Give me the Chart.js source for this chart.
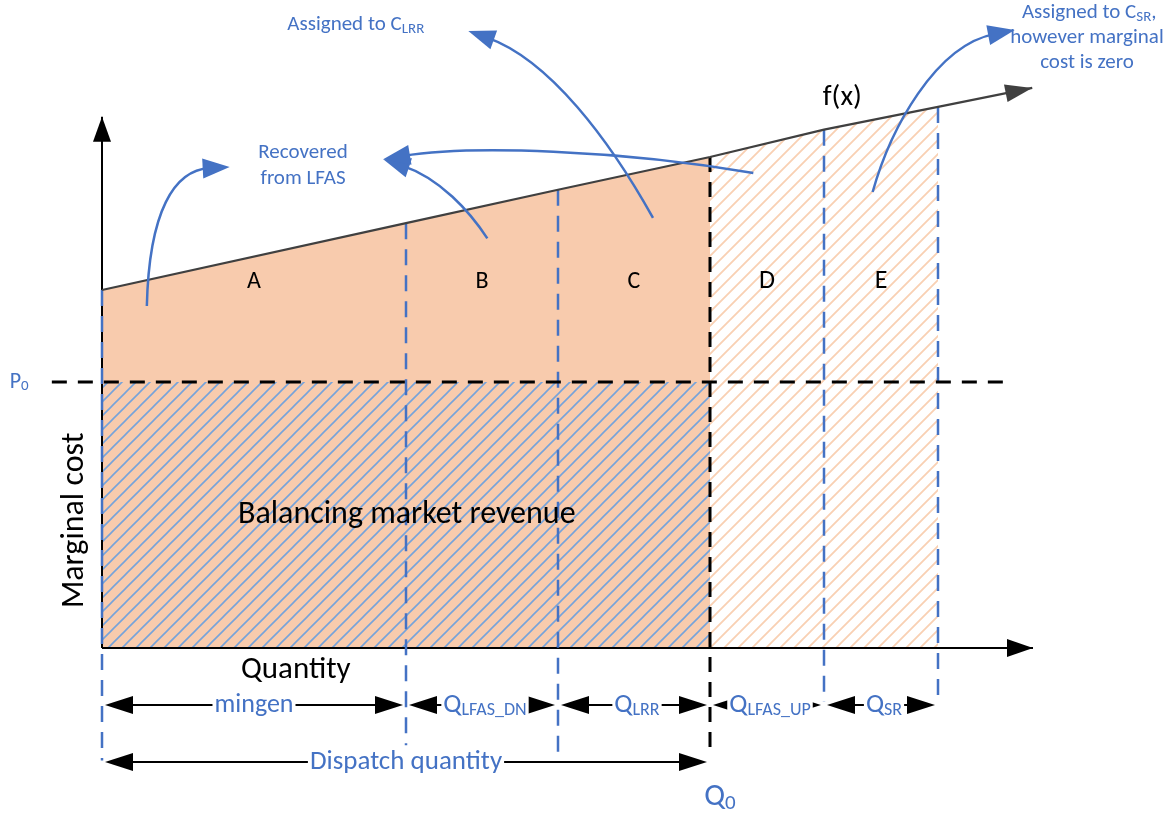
<!DOCTYPE html>
<html lang="en">
<head>
<meta charset="UTF-8" />
<title>Marginal cost, quantity segments and balancing market revenue</title>
<style>
  html, body { margin: 0; padding: 0; background: #fff; }
  #chart { display: block; }
</style>
</head>
<body>
<canvas id="chart" width="1175" height="815"></canvas>
<script src="https://cdn.jsdelivr.net/npm/chart.js@4.4.1/dist/chart.umd.min.js"></script>
<script>
// quantity boundaries of the segments (quantity units)
const segmentEdges = [0, 4, 6, 8, 9.5, 11];
const segmentNames = ["A", "B", "C", "D", "E"];
const segmentDims = [["mingen", ""], ["Q", "LFAS_DN"], ["Q", "LRR"], ["Q", "LFAS_UP"], ["Q", "SR"]];
// marginal cost curve f(x)
const curveX = [0, 4, 6, 8, 9.5, 11, 12.24];
const curveY = [4.71, 5.59, 6.03, 6.46, 6.82, 7.12, 7.37];
const p0 = 3.5;
const q0 = 8;
// where each dashed guide stops below the quantity axis
const guideBottom = [-1.48, -1.28, -1.43, -1.43, -0.71, -0.75];

const xAxisEnd = 12.25;
const yAxisEnd = 6.99;
const p0From = -0.66, p0To = 11.9;
const dimRow1 = -0.75, dimRow2 = -1.5;

const BLUE = "#4472C4";
const PEACH = "#F8CBAD";
const FONT = "Carlito, Calibri, Lato, 'Open Sans', sans-serif";

function hatch(bg, stroke, width) {
  const s = 14;
  const c = document.createElement("canvas");
  c.width = s; c.height = s;
  const g = c.getContext("2d");
  if (bg) { g.fillStyle = bg; g.fillRect(0, 0, s, s); }
  g.strokeStyle = stroke;
  g.lineWidth = width;
  g.beginPath();
  g.moveTo(-2, s + 2); g.lineTo(s + 2, -2);
  g.moveTo(-2, 2); g.lineTo(2, -2);
  g.moveTo(s - 2, s + 2); g.lineTo(s + 2, s - 2);
  g.stroke();
  return g.createPattern(c, "repeat");
}

const pts = (xs, ys) => xs.map((x, i) => ({ x: x, y: ys[i] }));
const qi = segmentEdges.indexOf(q0);

const datasets = [];
datasets.push({ data: pts(curveX, curveY), borderColor: "#404040", borderWidth: 2.2 });
datasets.push({ data: [{ x: p0From, y: p0 }, { x: p0To, y: p0 }], borderColor: "#000", borderWidth: 3, borderDash: [15, 11] });
segmentEdges.forEach((x, i) => {
  const isQ0 = x === q0;
  datasets.push({
    data: [{ x: x, y: curveY[i] }, { x: x, y: guideBottom[i] }],
    borderColor: isQ0 ? "#000" : BLUE,
    borderWidth: isQ0 ? 3 : 2.5,
    borderDash: isQ0 ? [15, 10] : [16, 10]
  });
});
datasets.push({ data: [{ x: 0, y: 0 }, { x: xAxisEnd, y: 0 }], borderColor: "#000", borderWidth: 2 });
datasets.push({ data: [{ x: 0, y: 0 }, { x: 0, y: yAxisEnd }], borderColor: "#000", borderWidth: 2 });
// areas
datasets.push({
  data: pts(segmentEdges.slice(0, qi + 1), curveY.slice(0, qi + 1)),
  borderWidth: 0, fill: { value: p0 }, backgroundColor: PEACH
});
datasets.push({
  data: [{ x: segmentEdges[0], y: p0 }, { x: q0, y: p0 }],
  borderWidth: 0, fill: { value: 0 }, backgroundColor: hatch(PEACH, "#76A3DA", 1.6)
});
datasets.push({
  data: pts(segmentEdges.slice(qi), curveY.slice(qi, segmentEdges.length)),
  borderWidth: 0, fill: { value: 0 }, backgroundColor: hatch("#fff", "#F9D0B3", 1.8)
});

// curved call-out arrows (quantity / cost units)
const callouts = [
  { from: [0.59, 4.50], c1: [0.62, 5.75], c2: [0.95, 6.29], to: [1.68, 6.33] },
  { from: [5.07, 5.39], c1: [4.84, 5.74], c2: [4.45, 6.18], to: [3.70, 6.43] },
  { from: [8.57, 6.25], c1: [6.82, 6.55], c2: [4.84, 6.62], to: [3.70, 6.43] },
  { from: [7.25, 5.66], c1: [6.68, 6.68], c2: [5.89, 7.74], to: [4.82, 8.12] },
  { from: [10.14, 6.0], c1: [10.37, 6.82], c2: [10.96, 7.93], to: [12.01, 8.13] }
];

function head(ctx, x, y, ang, len, half, color) {
  ctx.save();
  ctx.translate(x, y);
  ctx.rotate(ang);
  ctx.fillStyle = color;
  ctx.beginPath();
  ctx.moveTo(0, 0);
  ctx.lineTo(-len, -half);
  ctx.lineTo(-len, half);
  ctx.closePath();
  ctx.fill();
  ctx.restore();
}

function subText(ctx, main, sub, cx, cy, size, subSize, color, bg, tail) {
  tail = tail || "";
  ctx.font = size + "px " + FONT;
  const w1 = ctx.measureText(main).width;
  const w3 = tail ? ctx.measureText(tail).width : 0;
  ctx.font = subSize + "px " + FONT;
  const w2 = sub ? ctx.measureText(sub).width : 0;
  const x0 = cx - (w1 + w2 + w3) / 2;
  if (bg) {
    ctx.fillStyle = bg;
    ctx.fillRect(x0 - 2, cy - size * 0.45, w1 + w2 + w3 + 4, size * 0.9);
  }
  ctx.fillStyle = color;
  ctx.textAlign = "left";
  ctx.textBaseline = "middle";
  ctx.font = size + "px " + FONT;
  ctx.fillText(main, x0, cy);
  if (tail) ctx.fillText(tail, x0 + w1 + w2, cy);
  if (sub) {
    ctx.font = subSize + "px " + FONT;
    ctx.fillText(sub, x0 + w1, cy + size * 0.2);
  }
}

const drawing = {
  id: "drawing",
  afterDatasetsDraw(chart) {
    const ctx = chart.ctx;
    const X = v => chart.scales.x.getPixelForValue(v);
    const Y = v => chart.scales.y.getPixelForValue(v);
    ctx.save();

    // axis arrowheads
    head(ctx, X(xAxisEnd), Y(0), 0, 26, 9, "#000");
    head(ctx, X(0), Y(yAxisEnd), -Math.PI / 2, 25, 9, "#000");
    const n = curveX.length;
    const fa = Math.atan2(Y(curveY[n - 1]) - Y(curveY[n - 2]), X(curveX[n - 1]) - X(curveX[n - 2]));
    head(ctx, X(curveX[n - 1]), Y(curveY[n - 1]), fa, 27, 9, "#404040");

    // call-out arrows
    ctx.strokeStyle = BLUE;
    ctx.lineWidth = 2.5;
    callouts.forEach(c => {
      const tx = X(c.to[0]), ty = Y(c.to[1]);
      const a = Math.atan2(ty - Y(c.c2[1]), tx - X(c.c2[0]));
      ctx.beginPath();
      ctx.moveTo(X(c.from[0]), Y(c.from[1]));
      ctx.bezierCurveTo(X(c.c1[0]), Y(c.c1[1]), X(c.c2[0]), Y(c.c2[1]), tx - Math.cos(a) * 20, ty - Math.sin(a) * 20);
      ctx.stroke();
      head(ctx, tx, ty, a, 27, 10, BLUE);
    });

    // segment letters
    ctx.textAlign = "center";
    ctx.textBaseline = "middle";
    ctx.fillStyle = "#000";
    segmentNames.forEach((s, i) => {
      ctx.font = (i < 3 ? 24 : 26) + "px " + FONT;
      ctx.fillText(s, X((segmentEdges[i] + segmentEdges[i + 1]) / 2), Y(4.82));
    });
    ctx.font = "29px " + FONT;
    ctx.fillText("f(x)", X(9.74), Y(7.24));
    ctx.font = "32px " + FONT;
    ctx.fillText("Balancing market revenue", X(4.01), Y(1.75));
    ctx.font = "31px " + FONT;
    ctx.fillText("Quantity", X(2.55), Y(-0.29));
    ctx.save();
    ctx.translate(X(-0.36), Y(1.68));
    ctx.rotate(-Math.PI / 2);
    ctx.font = "32px " + FONT;
    ctx.fillText("Marginal cost", 0, 0);
    ctx.restore();

    // dimension arrows
    ctx.strokeStyle = "#000";
    ctx.lineWidth = 2;
    const dim = (a, b, yv) => {
      const l = X(a) + 3, r = X(b) - 3, y = Y(yv);
      ctx.beginPath();
      ctx.moveTo(l + 10, y); ctx.lineTo(r - 10, y);
      ctx.stroke();
      head(ctx, l, y, Math.PI, 28, 9, "#000");
      head(ctx, r, y, 0, 28, 9, "#000");
    };
    segmentDims.forEach((d, i) => {
      dim(segmentEdges[i], segmentEdges[i + 1], dimRow1);
      const cx = X((segmentEdges[i] + segmentEdges[i + 1]) / 2) + (d[1] ? 3 : 0);
      if (d[1]) subText(ctx, d[0], d[1], cx, Y(dimRow1), 27, 18, BLUE, "#fff");
      else subText(ctx, d[0], "", cx, Y(dimRow1), 26, 18, BLUE, "#fff");
    });
    dim(segmentEdges[0], q0, dimRow2);
    subText(ctx, "Dispatch quantity", "", X(q0 / 2), Y(dimRow2), 27, 18, BLUE, "#fff");

    // P0 and Q0 marks
    subText(ctx, "P", "0", X(-1.09), Y(p0), 22, 15, BLUE);
    subText(ctx, "Q", "0", X(q0 + 0.13), Y(-1.97), 31, 21, BLUE);

    // call-out texts
    subText(ctx, "Assigned to C", "LRR", X(3.34), Y(8.2), 21, 15, BLUE);
    ctx.fillStyle = BLUE;
    ctx.textAlign = "center";
    ctx.font = "21px " + FONT;
    ctx.fillText("Recovered", X(2.645), Y(6.52));
    ctx.fillText("from LFAS", X(2.645), Y(6.18));
    subText(ctx, "Assigned to C", "SR", X(12.99), Y(8.36), 21, 15, BLUE, null, ",");
    ctx.fillStyle = BLUE;
    ctx.textAlign = "center";
    ctx.font = "21px " + FONT;
    ctx.fillText("however marginal", X(12.96), Y(8.03));
    ctx.fillText("cost is zero", X(12.96), Y(7.70));

    ctx.restore();
  }
};

new Chart(document.getElementById("chart"), {
  type: "line",
  data: { datasets: datasets },
  options: {
    responsive: false,
    animation: false,
    events: [],
    layout: { padding: 0 },
    elements: { point: { radius: 0 }, line: { tension: 0, borderCapStyle: "butt" } },
    scales: {
      x: { type: "linear", display: false, min: -102 / 76, max: (1175 - 102) / 76 },
      y: { type: "linear", display: false, min: -(815 - 648) / 76, max: 648 / 76 }
    },
    plugins: { legend: { display: false }, tooltip: { enabled: false } }
  },
  plugins: [drawing]
});
</script>
</body>
</html>
